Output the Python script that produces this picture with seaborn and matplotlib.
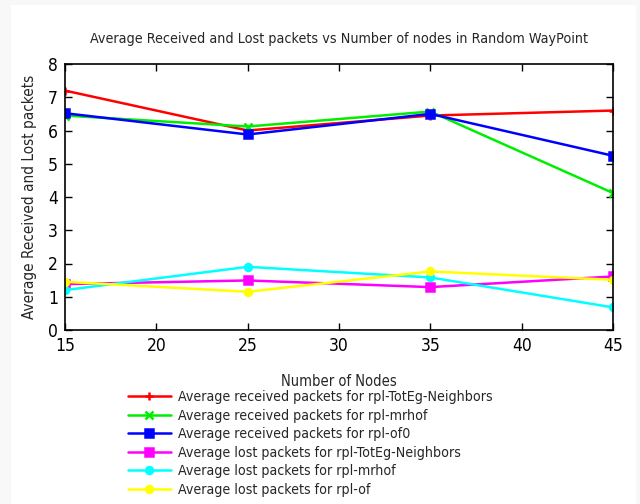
import matplotlib
matplotlib.use("Agg")
import matplotlib.pyplot as plt
from matplotlib.patches import Rectangle
import seaborn as sns
import pandas as pd

nodes = [15, 25, 35, 45]

recv_toteg = [7.2, 6.0, 6.45, 6.6]
recv_mrhof = [6.45, 6.12, 6.57, 4.12]
recv_of0 = [6.52, 5.88, 6.5, 5.24]
lost_toteg = [1.38, 1.49, 1.29, 1.61]
lost_mrhof = [1.2, 1.9, 1.58, 0.68]
lost_of = [1.45, 1.15, 1.76, 1.51]

series_labels = [
    "Average received packets for rpl-TotEg-Neighbors",
    "Average received packets for rpl-mrhof",
    "Average received packets for rpl-of0",
    "Average lost packets for rpl-TotEg-Neighbors",
    "Average lost packets for rpl-mrhof",
    "Average lost packets for rpl-of",
]
series_values = [recv_toteg, recv_mrhof, recv_of0, lost_toteg, lost_mrhof, lost_of]

x_ticks = [15, 20, 25, 30, 35, 40, 45]
y_ticks = [0, 1, 2, 3, 4, 5, 6, 7, 8]

colors = ["#ff0000", "#00ee00", "#0000ff", "#ff00ff", "#00ffff", "#ffff00"]
markers = ["+", "x", "s", "s", "o", "o"]
msizes = [6, 6, 6, 6, 5, 5]

sns.set_style("ticks")
plt.rcParams["font.family"] = ["DejaVu Sans"]
plt.rcParams["font.stretch"] = "condensed"

frames = []
for lab, vals in zip(series_labels, series_values):
    frames.append(pd.DataFrame({"nodes": nodes, "value": vals, "series": lab}))
df = pd.concat(frames, ignore_index=True)

fig = plt.figure(figsize=(6.4, 5.04), dpi=100)
fig.patch.set_facecolor("#f8f8f8")
# white page area inside a faint grey margin
fig.add_artist(Rectangle((11 / 640, 0), (636 - 11) / 640, (504 - 5) / 504,
                         transform=fig.transFigure, facecolor="white",
                         edgecolor="none", zorder=0))

ax = fig.add_axes([65 / 640, 1 - 330 / 504, (613 - 65) / 640, (330 - 64) / 504])

for lab, col, mk, ms in zip(series_labels, colors, markers, msizes):
    sub = df[df["series"] == lab]
    sns.lineplot(data=sub, x="nodes", y="value", ax=ax, color=col, marker=mk,
                 markersize=ms, markeredgewidth=1.8, markeredgecolor=col,
                 linewidth=1.8, label=lab, legend=False)

ax.set_xlim(15, 45)
ax.set_ylim(0, 8)
ax.set_xticks(x_ticks)
ax.set_yticks(y_ticks)
ax.tick_params(direction="in", top=True, right=True, length=5, width=1,
               labelsize=12.5, colors="black", pad=5)
for sp in ax.spines.values():
    sp.set_visible(True)
    sp.set_linewidth(1.2)
    sp.set_color("black")

ax.set_xlabel("Number of Nodes", fontsize=10.5, labelpad=14)
ax.set_ylabel("Average Received and Lost packets", fontsize=11, labelpad=8)
ax.set_title("Average Received and Lost packets vs Number of nodes in Random WayPoint",
             fontsize=10.3, pad=15)

handles, labels = ax.get_legend_handles_labels()
fig.legend(handles, labels, loc="upper left", bbox_to_anchor=(121 / 640, 1 - 383 / 504),
           frameon=False, fontsize=10.2, handlelength=3.0, handletextpad=0.5,
           labelspacing=0.32, borderpad=0)

fig.savefig("out.png", dpi=100, facecolor=fig.get_facecolor())
